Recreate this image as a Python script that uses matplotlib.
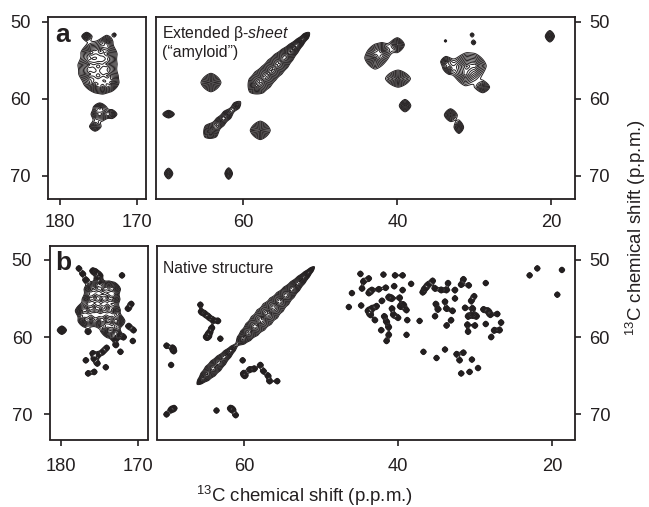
#!/usr/bin/env python3
import matplotlib

matplotlib.use("Agg")
import matplotlib.pyplot as plt
import numpy as np

plt.rcParams["font.family"] = ["Liberation Sans", "DejaVu Sans"]
plt.rcParams["mathtext.fontset"] = "custom"
plt.rcParams["mathtext.rm"] = "Liberation Sans"
plt.rcParams["mathtext.it"] = "Liberation Sans:italic"

INK = "#231f20"
WIDTH, HEIGHT = 649, 507

# peaks: shift x, shift y, radius x, radius y, intensity
a_left_x = [176.5, 173.9, 172.9, 175.9, 174.7, 173.8, 176.2, 175.0, 173.9, 176.1, 175.0, 173.8, 175.4, 174.4, 173.3, 174.8, 175.2, 174.4, 173.2, 175.4]
a_left_y = [51.9, 52.6, 51.7, 54.0, 53.8, 54.2, 55.6, 55.8, 55.5, 56.8, 57.0, 57.0, 58.1, 58.4, 57.9, 61.1, 62.0, 62.0, 62.0, 63.6]
a_left_rx = [0.6, 0.6, 0.2, 1.1, 1.1, 1.0, 1.15, 1.1, 1.0, 1.1, 1.1, 1.0, 1.0, 1.0, 0.8, 0.6, 0.6, 0.6, 0.6, 0.7]
a_left_ry = [0.5, 0.7, 0.2, 1.0, 1.0, 1.0, 1.0, 1.0, 1.0, 1.0, 1.0, 1.0, 0.8, 0.8, 0.8, 0.45, 0.6, 0.6, 0.5, 0.6]
a_left_amp = [5, 5, 2, 6, 6, 6, 6, 6, 6, 6, 6, 6, 6, 6, 6, 4, 4, 4, 4, 4]

a_mid_x = [69.7, 69.7, 64.2, 61.9, 57.8, 42.9, 42.0, 40.0, 39.9, 39.0, 33.75, 30.3, 30.1, 33.7, 33.3, 31.0, 29.9, 31.2, 28.9, 33.1, 32.0, 20.2]
a_mid_y = [62.0, 69.7, 57.9, 69.7, 64.1, 54.7, 53.8, 53.0, 57.4, 60.9, 52.5, 51.7, 52.7, 55.2, 56.1, 55.8, 55.7, 56.8, 58.5, 62.1, 63.7, 51.9]
a_mid_rx = [0.75, 0.55, 1.3, 0.5, 1.3, 1.3, 1.0, 0.9, 1.6, 0.75, 0.15, 0.22, 0.22, 0.6, 0.5, 1.7, 1.1, 1.0, 0.85, 0.8, 0.6, 0.6]
a_mid_ry = [0.5, 0.7, 1.2, 0.75, 1.2, 1.4, 0.9, 0.9, 1.1, 0.8, 0.15, 0.22, 0.22, 0.6, 0.5, 1.5, 1.1, 1.2, 0.7, 0.8, 0.8, 0.75]
a_mid_amp = [5, 5, 8, 5, 8, 8, 6, 6, 8, 6, 2, 2, 2, 4, 4, 8, 5, 5, 5, 6, 5, 6]

# diagonal ridge: position on the diagonal, radius along it, radius across it, intensity
a_diag_x = [51.9, 52.7, 53.5, 54.3, 55.1, 55.9, 56.7, 57.5, 58.3, 60.9, 62.1, 63.0, 64.2]
a_diag_ru = [0.6, 0.9, 1.0, 1.0, 1.1, 1.1, 1.1, 1.2, 1.1, 0.7, 0.8, 0.8, 1.1]
a_diag_rv = [0.35, 0.45, 0.6, 0.75, 0.95, 1.0, 0.9, 1.15, 1.1, 0.45, 0.55, 0.55, 1.0]
a_diag_amp = [5, 6, 6, 6, 7, 7, 7, 8, 8, 4, 5, 5, 8]

b_left_x = [177.7, 177.2, 176.8, 172.1, 175.9, 175.0, 171.3, 170.9, 171.2, 170.6, 170.7, 171.9, 172.9, 172.3, 176.8, 176.5, 175.7, 174.2, 175.9, 175.2, 175.3, 174.6, 174.1, 175.5, 175.2, 175.0, 175.7, 176.5, 172.6, 173.0]
b_left_y = [51.1, 51.8, 52.6, 52.0, 51.4, 52.0, 56.3, 55.7, 58.6, 59.1, 60.5, 60.0, 61.0, 61.9, 63.0, 64.7, 64.5, 63.9, 62.1, 62.3, 63.4, 61.9, 61.4, 51.6, 52.4, 53.0, 62.8, 59.3, 59.7, 60.2]
b_left_big_x = [179.9]
b_left_big_y = [59.1]
b_left_blob_x = [176.2, 175.4, 174.6, 173.8, 173.1, 176.4, 175.6, 174.8, 174.0, 173.2, 177.4, 176.5, 175.7, 174.9, 174.0, 173.2, 177.0, 176.1, 175.1, 174.2, 173.4, 172.5, 174.0, 173.3]
b_left_blob_y = [53.8, 53.6, 53.8, 53.6, 53.8, 55.1, 54.9, 55.1, 54.9, 55.1, 56.6, 56.4, 56.2, 56.4, 56.2, 56.5, 57.9, 57.7, 57.9, 57.7, 57.9, 57.9, 59.2, 59.3]

b_mid_x = [70.1, 69.5, 69.3, 69.15, 70.1, 69.5, 69.1, 63.6, 61.8, 61.5, 61.1, 65.7, 65.6, 65.1, 64.6, 64.05, 63.4, 64.2, 64.5, 64.7, 64.9, 63.1, 60.2, 60.1, 59.9, 59.3, 58.7, 57.9, 57.5, 56.9, 56.7, 55.7,
           44.9, 41.9, 40.4, 39.4, 38.3, 40.5, 39.4, 41.6, 46.0, 46.4, 44.8, 42.1, 43.8, 44.5, 44.7, 43.8, 43.4, 42.5, 41.2, 39.8,
           43.4, 42.8, 43.6, 43.0, 43.9, 41.8, 41.5, 41.2, 42.2, 41.2, 41.5,
           40.8, 40.8, 40.6, 40.0, 39.7, 38.9, 39.3, 38.8, 38.9, 37.2, 36.7, 35.0, 33.9, 32.4, 31.5, 32.0, 30.4, 29.6, 30.7, 31.8,
           35.5, 36.1, 36.5, 36.8, 35.2, 34.4, 33.5, 32.6, 33.7, 31.8, 31.5, 30.8, 28.6, 35.2, 35.1, 34.8, 33.9, 33.7, 32.9, 32.6, 33.1, 33.7,
           31.3, 30.5, 30.1, 30.3, 30.9, 31.0, 30.9, 30.0, 29.8, 30.3,
           28.9, 28.3, 28.0, 27.1, 28.6, 26.6, 27.5, 26.8, 27.9, 22.9, 21.9, 18.7, 19.3]
b_mid_y = [61.1, 63.6, 61.4, 61.8, 70.0, 69.4, 69.2, 69.5, 69.2, 69.4, 70.1, 55.8, 56.7, 57.0, 57.4, 57.8, 57.9, 58.8, 59.4, 59.9, 60.0, 60.2, 63.0, 64.7, 65.0, 64.2, 64.1, 63.6, 64.4, 65.0, 65.7, 65.7,
           51.8, 51.9, 52.0, 52.0, 53.1, 53.4, 53.9, 53.6, 54.3, 56.1, 55.9, 55.3, 52.4, 52.8, 53.7, 54.3, 53.9, 53.8, 54.8, 54.9,
           56.3, 56.0, 57.1, 57.8, 56.6, 57.3, 58.0, 58.7, 59.1, 59.7, 60.5,
           55.0, 56.3, 57.1, 57.5, 56.0, 56.5, 55.8, 57.8, 59.7, 57.9, 61.9, 62.7, 61.6, 62.2, 62.0, 63.0, 62.9, 64.0, 64.5, 64.7,
           52.7, 53.2, 53.7, 54.2, 53.7, 53.9, 53.0, 53.9, 53.9, 53.2, 52.5, 53.3, 53.0, 57.3, 55.7, 56.4, 55.4, 56.3, 56.6, 55.0, 57.8, 58.5,
           56.2, 55.3, 54.7, 56.3, 57.3, 58.4, 59.3, 58.5, 57.3, 57.1,
           56.4, 56.6, 57.1, 57.0, 58.3, 58.1, 59.1, 59.1, 60.0, 52.0, 51.1, 51.3, 54.5]

b_diag_x = [51.3, 51.9, 52.6, 53.4, 54.2, 55.0, 55.8, 56.6, 57.4, 58.2, 59.0, 59.8, 60.4, 61.5, 62.2, 63.0, 63.7, 64.4, 65.1, 65.7]
b_diag_ru = [0.5, 0.7, 0.9, 0.9, 0.9, 0.9, 0.9, 0.9, 0.9, 0.9, 0.9, 0.8, 0.5, 0.5, 0.8, 0.8, 0.8, 0.8, 0.7, 0.5]
b_diag_rv = [0.22, 0.36, 0.52, 0.64, 0.76, 0.88, 1.0, 1.1, 1.1, 1.02, 0.9, 0.72, 0.46, 0.28, 0.48, 0.6, 0.7, 0.7, 0.56, 0.28]
b_diag_amp = [4, 5, 6, 6, 6, 7, 7, 8, 8, 7, 7, 6, 4, 3, 5, 5, 6, 6, 5, 4]

x_left_ticks = [180, 170]
x_mid_ticks = [60, 40, 20]
y_ticks = [50, 60, 70]

LEVELS = 1.25 ** np.arange(0, 22)
ROUNDNESS = 1.5


def add_panel(fig, left, top, right, bottom):
    return fig.add_axes([left / WIDTH, 1 - bottom / HEIGHT, (right - left) / WIDTH, (bottom - top) / HEIGHT])


def lineshape(a, b, amp):
    # cone with a rounded-diamond outline, reaches level 1 at a or b equal to 1
    return amp * np.exp(-np.log(amp) * (np.abs(a) ** ROUNDNESS + np.abs(b) ** ROUNDNESS) ** (1 / ROUNDNESS))


def add_peaks(field, gx, gy, xs, ys, rxs, rys, amps):
    for x, y, rx, ry, amp in zip(xs, ys, rxs, rys, amps):
        field += lineshape((gx - x) / rx, (gy - y) / ry, amp)


def add_diagonal(field, gx, gy, xs, rus, rvs, amps):
    for x, ru, rv, amp in zip(xs, rus, rvs, amps):
        u = ((gx - x) + (gy - x)) / np.sqrt(2)
        v = ((gx - x) - (gy - x)) / np.sqrt(2)
        field += lineshape(u / ru, v / rv, amp)


def draw_spectrum(ax, xlim, ylim, peaks=None, dots=None, big=None, blobs=None, diag=None):
    gx, gy = np.meshgrid(np.arange(xlim[1], xlim[0], 0.03), np.arange(ylim[1], ylim[0], 0.03))
    field = np.zeros_like(gx)
    if peaks:
        add_peaks(field, gx, gy, *peaks)
    if dots:
        n = len(dots[0])
        add_peaks(field, gx, gy, dots[0], dots[1], [0.36] * n, [0.36] * n, [6] * n)
    if big:
        n = len(big[0])
        add_peaks(field, gx, gy, big[0], big[1], [0.6] * n, [0.55] * n, [8] * n)
    if blobs:
        n = len(blobs[0])
        add_peaks(field, gx, gy, blobs[0], blobs[1], [0.7] * n, [0.7] * n, [6] * n)
    if diag:
        add_diagonal(field, gx, gy, *diag)
    ax.contour(gx, gy, field, levels=LEVELS, colors=INK, linewidths=0.7)
    ax.set_xlim(*xlim)
    ax.set_ylim(*ylim)


def style_panel(ax, xticks, side, xpad, ypad):
    ax.set_xticks(xticks)
    ax.set_yticks(y_ticks)
    if side == "right":
        ax.yaxis.tick_right()
    ax.tick_params(length=4.5, width=1.2, labelsize=13.2, color=INK, labelcolor=INK)
    ax.tick_params(axis="x", pad=xpad)
    ax.tick_params(axis="y", pad=ypad)
    for spine in ax.spines.values():
        spine.set_linewidth(1.3)
        spine.set_color(INK)


def main():
    fig = plt.figure(figsize=(WIDTH / 100, HEIGHT / 100), dpi=100)

    ax = add_panel(fig, 48, 17, 146, 199)
    draw_spectrum(ax, (181.5, 168.8), (73.0, 49.4), peaks=(a_left_x, a_left_y, a_left_rx, a_left_ry, a_left_amp))
    style_panel(ax, x_left_ticks, "left", 6, 8)
    ax.text(0.07, 0.965, "a", transform=ax.transAxes, fontsize=19, fontweight="bold", va="top", color=INK)

    ax = add_panel(fig, 155.5, 17, 574.5, 199)
    draw_spectrum(ax, (71.4, 17.0), (73.0, 49.4), peaks=(a_mid_x, a_mid_y, a_mid_rx, a_mid_ry, a_mid_amp), diag=(a_diag_x, a_diag_ru, a_diag_rv, a_diag_amp))
    style_panel(ax, x_mid_ticks, "right", 6, 6)
    ax.text(6.5 / 419, 1 - 7 / 182, "Extended β-$\\mathit{sheet}$\n(“amyloid”)", transform=ax.transAxes, fontsize=11.4, va="top", color=INK, linespacing=1.2)

    ax = add_panel(fig, 49.5, 246, 147.5, 439.5)
    draw_spectrum(ax, (181.5, 168.8), (73.25, 48.2), dots=(b_left_x, b_left_y), big=(b_left_big_x, b_left_big_y), blobs=(b_left_blob_x, b_left_blob_y))
    style_panel(ax, x_left_ticks, "left", 9, 8)
    ax.text(0.06, 0.975, "b", transform=ax.transAxes, fontsize=19, fontweight="bold", va="top", color=INK)

    ax = add_panel(fig, 156.5, 246, 575, 439.5)
    draw_spectrum(ax, (71.4, 17.0), (73.25, 48.2), dots=(b_mid_x, b_mid_y), diag=(b_diag_x, b_diag_ru, b_diag_rv, b_diag_amp))
    style_panel(ax, x_mid_ticks, "right", 9, 6)
    ax.text(6.5 / 418.5, 1 - 15 / 193.5, "Native structure", transform=ax.transAxes, fontsize=11.3, va="top", color=INK)

    fig.text(304 / WIDTH, 1 - 496 / HEIGHT, "$^{13}$C chemical shift (p.p.m.)", fontsize=13.4, ha="center", va="center", color=INK)
    fig.text(636 / WIDTH, 1 - 227.5 / HEIGHT, "$^{13}$C chemical shift (p.p.m.)", fontsize=13.4, rotation=90, ha="center", va="center", color=INK)

    fig.savefig("out.png", dpi=100)
    plt.close(fig)


if __name__ == "__main__":
    main()
